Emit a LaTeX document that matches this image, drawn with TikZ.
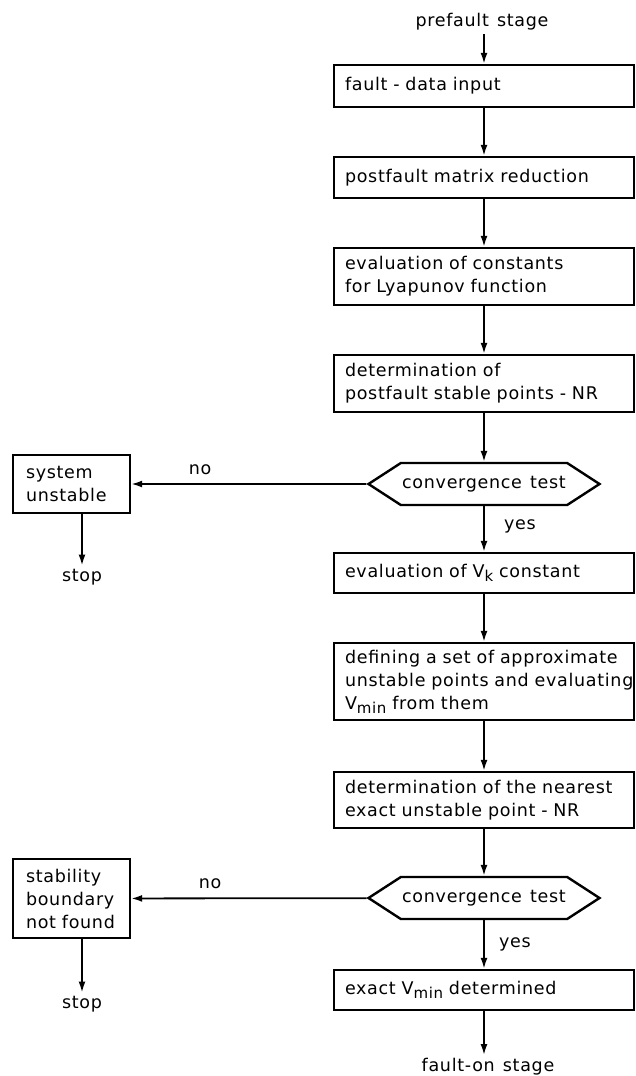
\documentclass[tikz,border=0pt]{standalone}
\usepackage{fontspec}
\setmainfont[LetterSpace=4,WordSpace=1.3]{DejaVu Sans}
\usetikzlibrary{arrows.meta,shapes.symbols}

\newcommand{\lowsub}[1]{\raisebox{-0.45ex}{\fontsize{15}{15}\selectfont #1}}

\begin{document}
\begin{tikzpicture}[x=1pt,y=-1pt]

        \useasboundingbox (0,0) rectangle (636,1076);

        \begin{scope}[every node/.style={font=\fontsize{17.5}{23}\selectfont}]
          \begin{scope}[line width=2.4pt,
              every node/.append style={draw,rectangle,align=left},
              stepbox/.style={minimum width=300pt,text width=278pt,inner xsep=11pt,inner ysep=0pt},
              sidebox/.style={minimum width=117pt,text width=91pt,inner xsep=13pt,inner ysep=0pt},
              testbox/.style={signal,signal to=west and east,signal pointer angle=66,
                minimum width=231pt,minimum height=42pt,inner sep=0pt,align=center}]
            \node[stepbox,minimum height=42pt] (b1) at (484,86)    {fault - data input};
            \node[stepbox,minimum height=41pt] (b2) at (484,177.5) {postfault matrix reduction};
            \node[stepbox,minimum height=57pt] (b3) at (484,276.5) {evaluation of constants\\for Lyapunov function};
            \node[stepbox,minimum height=57pt] (b4) at (484,383.5) {determination of\\postfault stable points - NR};
            \node[testbox] (t1) at (484,484) {convergence test};
            \node[stepbox,minimum height=40pt] (b5) at (484,573)   {evaluation of V\lowsub{k} constant};
            \node[stepbox,minimum height=77pt] (b6) at (484,681.5) {\mbox{defining a set of approximate}\\\mbox{unstable points and evaluating}\\V\lowsub{min} from them};
            \node[stepbox,minimum height=56pt] (b7) at (484,800)   {determination of the nearest\\exact unstable point - NR};
            \node[testbox] (t2) at (484,898) {convergence test};
            \node[stepbox,minimum height=40pt] (b8) at (484,990)   {exact V\lowsub{min} determined};
            \node[sidebox,minimum height=58pt] (s1) at (71.5,484)  {system\\unstable};
            \node[sidebox,minimum height=79pt] (s2) at (71.5,898.5) {stability\\boundary\\not found};
          \end{scope}

          \node (pre)   at (482,22)   {prefault stage};
          \node (post)  at (488,1067) {fault-on stage};
          \node (stop1) at (82,577)   {stop};
          \node (stop2) at (82,1004)  {stop};

          \begin{scope}[every edge/.style={draw,line width=1.8pt,-{Latex[length=11pt,width=7pt]}}]
            \path (pre.south -| b1) edge (b1);
            \path (b1)   edge (b2);
            \path (b2)   edge (b3);
            \path (b3)   edge (b4);
            \path (b4)   edge (t1);
            \path (t1)   edge (b5);
            \path (b5)   edge (b6);
            \path (b6)   edge (b7);
            \path (b7)   edge (t2);
            \path (t2)   edge (b8);
            \path (b8)   edge (b8 |- post.north);
            \path (t1)   edge (s1);
            \path (t2)   edge (s2);
            \path (s1.south -| stop1) edge (stop1);
            \path (s2.south -| stop2) edge (stop2);
          \end{scope}

          \node at (200,470) {no};
          \node at (210,884) {no};
          \node at (520,526) {yes};
          \node at (515,944) {yes};
        \end{scope}

      \end{tikzpicture}
\end{document}
